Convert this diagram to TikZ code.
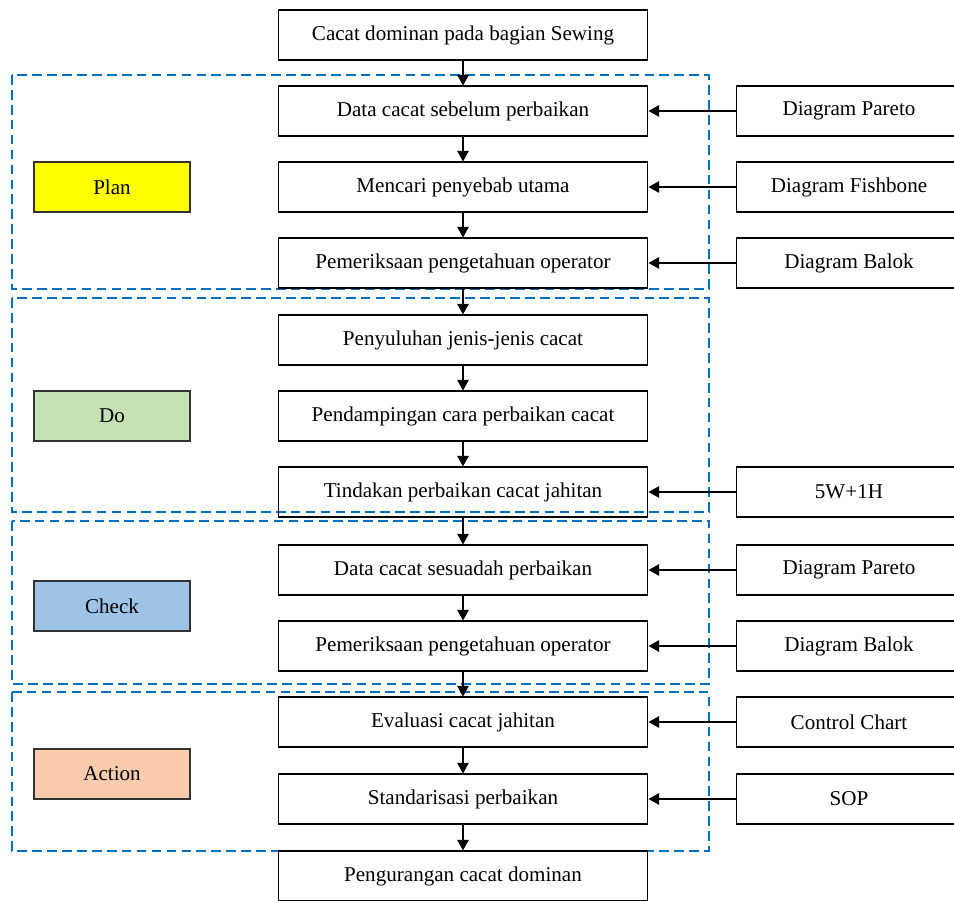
\documentclass[tikz,border=0pt]{standalone}
\usepackage{fontspec}
\setmainfont{Liberation Serif}
\definecolor{planyellow}{RGB}{255, 255, 0}
\definecolor{dogreen}{RGB}{197, 224, 180}
\definecolor{checkblue}{RGB}{157, 195, 230}
\definecolor{actorange}{RGB}{248, 203, 173}
\definecolor{phaseblue}{RGB}{0, 112, 192}
\usepackage{tikz}
\usetikzlibrary{arrows.meta, positioning, calc}
\tikzset{
    stepbox/.style={draw, rectangle, minimum width=7.4cm, minimum height=1cm, font=\fontsize{12}{14}\selectfont, align=center, line width=0.6pt},
    toolbox/.style={stepbox, minimum width=4.52cm},
    phasebox/.style={draw=black!80, rectangle, minimum width=3.12cm, minimum height=1cm, font=\fontsize{12}{14}\selectfont, line width=0.6pt},
    phaseframe/.style={draw=phaseblue, line width=0.9pt, dash pattern=on 5.5pt off 3pt},
    flowarrow/.style={-{Triangle[length=6pt, width=6.5pt]}, line width=0.6pt},
}

\begin{document}
\begin{tikzpicture}[x=0.02cm, y=-0.02cm]
            \clip (0,0) rectangle (954,900);

            % Phase frames
            \draw[phaseframe] (12,75) rectangle (709,289);
            \draw[phaseframe] (12,298) rectangle (709,512);
            \draw[phaseframe] (12,521) rectangle (709,684);
            \draw[phaseframe] (12,692) rectangle (709,851);

            % Phase labels
            \node[phasebox, fill=planyellow] (plan) at (112,187) {Plan};
            \node[phasebox, fill=dogreen] (do) at (112,416) {Do};
            \node[phasebox, fill=checkblue] (check) at (112,606) {Check};
            \node[phasebox, fill=actorange] (action) at (112,774) {Action};

            % Main steps
            \node[stepbox] (start) at (463,35) {Cacat dominan pada bagian Sewing};
            \node[stepbox] (before) at (463,111) {Data cacat sebelum perbaikan};
            \node[stepbox] (cause) at (463,187) {Mencari penyebab utama};
            \node[stepbox] (test1) at (463,263) {Pemeriksaan pengetahuan operator};
            \node[stepbox] (training) at (463,340) {Penyuluhan jenis-jenis cacat};
            \node[stepbox] (assist) at (463,416) {Pendampingan cara perbaikan cacat};
            \node[stepbox] (repair) at (463,492) {Tindakan perbaikan cacat jahitan};
            \node[stepbox] (after) at (463,570) {Data cacat sesuadah perbaikan};
            \node[stepbox] (test2) at (463,646) {Pemeriksaan pengetahuan operator};
            \node[stepbox] (evaluate) at (463,722) {Evaluasi cacat jahitan};
            \node[stepbox] (standard) at (463,799) {Standarisasi perbaikan};
            \node[stepbox] (reduce) at (463,876) {Pengurangan cacat dominan};

            % Tools
            \node[toolbox] (pareto1) at (849,111) {Diagram Pareto};
            \node[toolbox] (fishbone) at (849,187) {Diagram Fishbone};
            \node[toolbox] (balok1) at (849,263) {Diagram Balok};
            \node[toolbox] (fivew) at (849,492) {5W+1H};
            \node[toolbox] (pareto2) at (849,570) {Diagram Pareto};
            \node[toolbox] (balok2) at (849,646) {Diagram Balok};
            \node[toolbox] (chart) at (849,722) {Control Chart};
            \node[toolbox] (sop) at (849,799) {SOP};

            % Flow
            \foreach \a/\b in {start/before, before/cause, cause/test1, test1/training,
                training/assist, assist/repair, repair/after, after/test2,
                test2/evaluate, evaluate/standard, standard/reduce}
                \draw[flowarrow] (\a) -- (\b);

            \foreach \t/\s in {pareto1/before, fishbone/cause, balok1/test1, fivew/repair,
                pareto2/after, balok2/test2, chart/evaluate, sop/standard}
                \draw[flowarrow] (\t) -- (\s);
        \end{tikzpicture}
\end{document}
